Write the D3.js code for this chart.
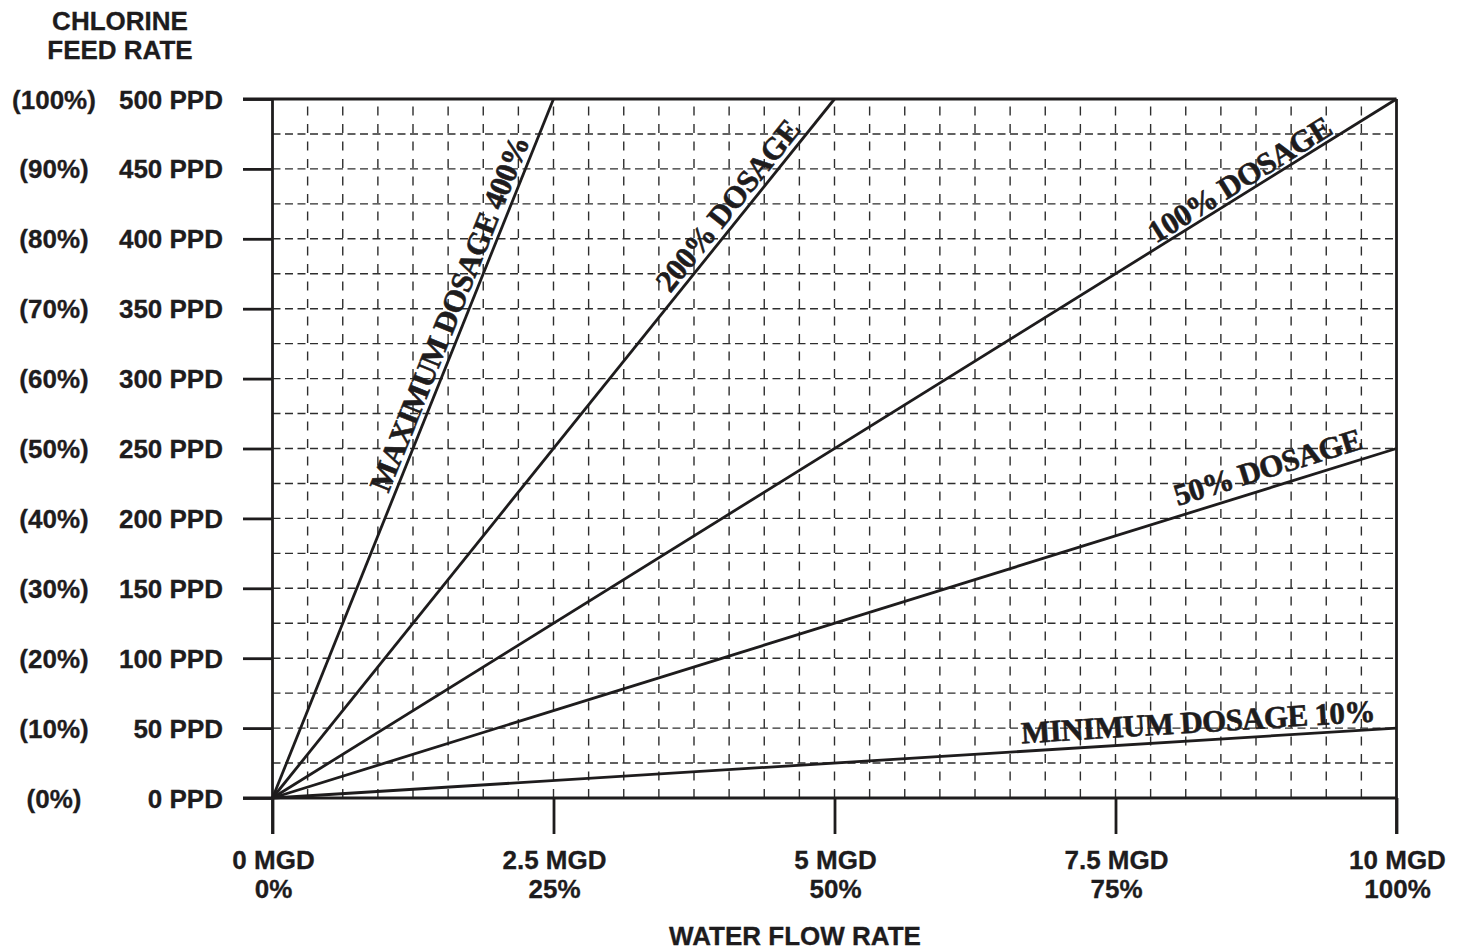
<!DOCTYPE html>
<html>
<head>
<meta charset="utf-8">
<script src="https://cdn.jsdelivr.net/npm/d3@7/dist/d3.min.js"></script>
<style>
  html, body { margin: 0; padding: 0; background: #fff; }
  svg { display: block; }
</style>
</head>
<body>
<svg id="chart" width="1460" height="952"></svg>
<script>
// ---- data ----
const flowTicks = [0, 2.5, 5, 7.5, 10];                       // MGD
const flowLabels = ["0 MGD", "2.5 MGD", "5 MGD", "7.5 MGD", "10 MGD"];
const flowPctLabels = ["0%", "25%", "50%", "75%", "100%"];
const feedTicks = [0, 50, 100, 150, 200, 250, 300, 350, 400, 450, 500]; // PPD
const feedLabels = ["0 PPD", "50 PPD", "100 PPD", "150 PPD", "200 PPD", "250 PPD",
                    "300 PPD", "350 PPD", "400 PPD", "450 PPD", "500 PPD"];
const feedPctLabels = ["(0%)", "(10%)", "(20%)", "(30%)", "(40%)", "(50%)",
                       "(60%)", "(70%)", "(80%)", "(90%)", "(100%)"];
const dosageNames = ["MAXIMUM DOSAGE 400%", "200% DOSAGE", "100% DOSAGE", "50% DOSAGE", "MINIMUM DOSAGE 10%"];
const dosageRates = [200, 100, 50, 25, 5];                    // PPD per MGD
const flowMax = 10;
const feedMax = 500;
const gridFlowStep = 10 / 32;   // minor grid step, MGD
const gridFeedStep = 25;        // minor grid step, PPD

// ---- layout ----
const svg = d3.select("#chart");
const x = d3.scaleLinear().domain([0, flowMax]).range([272.5, 1396.5]);
const y = d3.scaleLinear().domain([0, feedMax]).range([798, 99]);
const ink = "#1e1c1d";
const sans = "'Liberation Sans', Arial, Helvetica, sans-serif";
const serif = "'Liberation Serif', 'Times New Roman', serif";

// grid
const gridV = d3.range(1, 32).map(i => i * gridFlowStep);
const gridH = d3.range(1, 20).map(i => i * gridFeedStep);
const grid = svg.append("g").attr("stroke", "#2e2e2e").attr("stroke-width", 1.4).attr("fill", "none");
grid.selectAll("line.v").data(gridV).join("line")
  .attr("x1", d => x(d)).attr("x2", d => x(d))
  .attr("y1", y(0)).attr("y2", y(feedMax))
  .attr("stroke-dasharray", "9,8.5");
grid.selectAll("line.h").data(gridH).join("line")
  .attr("y1", d => y(d)).attr("y2", d => y(d))
  .attr("x1", x(0)).attr("x2", x(flowMax))
  .attr("stroke-dasharray", "8,4.5");

// axes frame
const frame = svg.append("g").attr("stroke", ink).attr("stroke-width", 2.8).attr("fill", "none");
frame.append("line").attr("x1", 243).attr("x2", x(flowMax)).attr("y1", y(feedMax)).attr("y2", y(feedMax));
frame.append("line").attr("x1", 243).attr("x2", x(flowMax)).attr("y1", y(0)).attr("y2", y(0));

// y axis ticks via d3 axis
const yAxis = svg.append("g").attr("transform", `translate(${x(0)},0)`)
  .call(d3.axisLeft(y).tickValues(feedTicks).tickSize(x(0) - 243).tickSizeOuter(0).tickFormat(""));
yAxis.select(".domain").remove();
yAxis.selectAll(".tick line").attr("stroke", ink).attr("stroke-width", 2.8);

// x axis ticks via d3 axis
const xAxis = svg.append("g").attr("transform", `translate(0,${y(0)})`)
  .call(d3.axisBottom(x).tickValues(flowTicks).tickSize(834 - y(0)).tickSizeOuter(0).tickFormat(""));
xAxis.select(".domain").remove();
xAxis.selectAll(".tick line").attr("stroke", ink).attr("stroke-width", 2.8);

// vertical borders
frame.append("line").attr("x1", x(0)).attr("x2", x(0)).attr("y1", y(feedMax)).attr("y2", 834);
frame.append("line").attr("x1", x(flowMax)).attr("x2", x(flowMax)).attr("y1", y(feedMax)).attr("y2", 834);

// dosage lines
const lines = svg.append("g").attr("stroke", ink).attr("stroke-width", 2.8).attr("fill", "none");
const dosage = dosageNames.map((n, i) => ({ name: n, rate: dosageRates[i] }));
const lineGen = d3.line().x(d => x(d[0])).y(d => y(d[1]));
lines.selectAll("path").data(dosage).join("path")
  .attr("d", d => {
    const xe = Math.min(flowMax, feedMax / d.rate);
    return lineGen([[0, 0], [xe, d.rate * xe]]);
  });

// dosage labels (start position along line in MGD, perpendicular offset in px)
const labelPlace = [
  { s: 1.08, off: 6 },
  { s: 3.58, off: 6 },
  { s: 7.88, off: 4 },
  { s: 8.08, off: 10 },
  { s: 6.67, off: 8 }
];
svg.append("g").selectAll("text").data(dosage).join("text")
  .attr("transform", (d, i) => {
    const ang = Math.atan2(y(d.rate) - y(0), x(1) - x(0)) * 180 / Math.PI;
    const s = labelPlace[i].s;
    return `translate(${x(s)},${y(d.rate * s)}) rotate(${ang})`;
  })
  .attr("y", (d, i) => -labelPlace[i].off)
  .attr("font-family", serif).attr("font-weight", "bold").attr("font-size", 31)
  .attr("letter-spacing", -0.6)
  .attr("fill", ink).attr("stroke", ink).attr("stroke-width", 0.6)
  .text(d => d.name);

// y labels
const yl = svg.append("g").attr("font-family", sans).attr("font-weight", "bold")
  .attr("font-size", 26).attr("fill", ink).attr("stroke", ink).attr("stroke-width", 0.3);
yl.selectAll("text.ppd").data(feedTicks).join("text").attr("class", "ppd")
  .attr("x", 223).attr("y", d => y(d) + 9.5).attr("text-anchor", "end")
  .text((d, i) => feedLabels[i]);
yl.selectAll("text.pct").data(feedTicks).join("text").attr("class", "pct")
  .attr("x", 54).attr("y", d => y(d) + 9.5).attr("text-anchor", "middle")
  .text((d, i) => feedPctLabels[i]);
yl.append("text").attr("x", 120).attr("y", 30).attr("text-anchor", "middle").text("CHLORINE");
yl.append("text").attr("x", 120).attr("y", 59).attr("text-anchor", "middle").text("FEED RATE");

// x labels
const xl = svg.append("g").attr("font-family", sans).attr("font-weight", "bold")
  .attr("font-size", 26).attr("fill", ink).attr("stroke", ink).attr("stroke-width", 0.3)
  .attr("text-anchor", "middle");
xl.selectAll("text.mgd").data(flowTicks).join("text").attr("class", "mgd")
  .attr("x", d => x(d) + 1).attr("y", 869)
  .text((d, i) => flowLabels[i]);
xl.selectAll("text.pct").data(flowTicks).join("text").attr("class", "pct")
  .attr("x", d => x(d) + 1).attr("y", 898)
  .text((d, i) => flowPctLabels[i]);
xl.append("text").attr("x", 795).attr("y", 945).text("WATER FLOW RATE");
</script>
</body>
</html>
